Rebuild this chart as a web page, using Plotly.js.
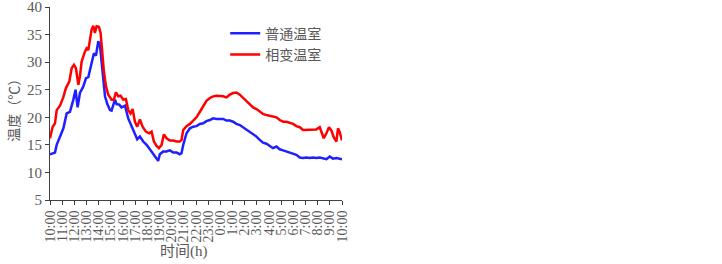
<!DOCTYPE html>
<html>
<head>
<meta charset="utf-8">
<script src="https://cdn.plot.ly/plotly-3.0.1.min.js"></script>
<style>html,body{margin:0;padding:0;background:#fff;}#chart{width:722px;height:264px;}</style>
</head>
<body>
<div id="chart"></div>
<script>
// Hours after 10:00 and temperatures (°C)
const tickLabels = ["10:00","11:00","12:00","13:00","14:00","15:00","16:00","17:00","18:00","19:00","20:00","21:00","22:00","23:00","0:00","1:00","2:00","3:00","4:00","5:00","6:00","7:00","8:00","9:00","10:00"];
const yTicks = [5,10,15,20,25,30,35,40];

const normalHours = [0,0.41,0.55,0.75,0.96,1.1,1.37,1.64,1.92,2.1,2.27,2.46,2.74,2.96,3.15,3.42,3.61,3.78,3.97,4.1,4.24,4.38,4.52,4.71,4.93,5.06,5.34,5.47,5.69,5.88,6.16,6.43,6.71,6.98,7.17,7.39,7.66,7.94,8.21,8.48,8.7,8.89,9.03,9.3,9.58,9.85,10.13,10.4,10.67,10.81,10.95,11.22,11.5,11.77,12.04,12.32,12.59,12.86,13.14,13.41,13.68,13.96,14.23,14.5,14.78,15.05,15.32,15.6,15.87,16.14,16.42,16.69,16.97,17.24,17.51,17.79,18.06,18.33,18.61,18.88,19.16,19.43,19.7,19.98,20.25,20.53,20.8,21.07,21.35,21.62,21.89,22.17,22.44,22.72,22.99,23.26,23.54,24];
const normalTemp = [13.3,13.6,15.0,16.2,17.1,18.0,20.7,21.0,23.2,25.0,21.8,24.4,25.6,27.1,27.3,30.1,31.6,31.2,33.8,33.2,30.4,26.8,23.8,22.4,21.3,21.2,23.2,22.4,22.3,21.8,22.1,19.8,18.3,17.1,16.0,16.5,15.6,15.0,14.2,13.3,12.6,12.1,13.3,13.8,13.8,14.0,13.6,13.6,13.3,13.5,15.0,17.1,18.0,18.3,18.4,18.8,18.9,19.3,19.5,19.8,19.7,19.7,19.7,19.4,19.4,19.2,18.8,18.6,18.2,17.8,17.4,17.0,16.5,15.9,15.4,15.2,14.8,14.4,14.7,14.2,14.0,13.8,13.6,13.5,13.2,12.7,12.6,12.7,12.6,12.7,12.6,12.7,12.6,12.4,12.9,12.5,12.6,12.4];

const pcmHours = [0,0.22,0.41,0.55,0.82,1.09,1.31,1.59,1.78,1.97,2.13,2.33,2.46,2.6,2.87,3.01,3.15,3.28,3.42,3.56,3.69,3.83,4.02,4.16,4.3,4.43,4.6,4.79,5.06,5.25,5.42,5.61,5.8,6.02,6.24,6.43,6.62,6.79,6.98,7.17,7.39,7.61,7.88,8.16,8.35,8.54,8.76,8.95,9.17,9.36,9.58,9.85,10.13,10.4,10.67,10.81,10.95,11.22,11.5,11.77,12.04,12.32,12.59,12.86,13.14,13.41,13.68,13.96,14.23,14.5,14.78,15.05,15.32,15.6,15.87,16.14,16.42,16.69,16.97,17.24,17.51,17.79,18.06,18.33,18.61,18.88,19.16,19.43,19.7,19.98,20.25,20.53,20.8,21.07,21.35,21.62,21.89,22.17,22.3,22.5,22.72,22.93,23.13,23.32,23.54,23.67,23.8,24];
const pcmTemp = [16.2,18.3,18.9,21.3,22.1,23.6,25.3,26.5,28.9,29.5,28.9,25.9,27.4,30.1,31.9,32.5,32.2,34.1,35.9,36.6,35.3,36.5,36.4,35.3,31.6,28.3,25.6,24.1,23.2,23.2,24.5,23.8,23.9,23.2,23.3,21.3,20.7,21.5,19.2,18.3,19.6,18.3,17.4,17.1,17.4,15.6,14.8,14.4,15.0,16.9,16.2,15.8,15.8,15.6,15.6,15.9,17.7,18.4,18.8,19.4,20.0,21.0,22.1,23.0,23.5,23.8,23.9,23.9,23.8,23.6,24.1,24.4,24.5,24.1,23.5,22.9,22.3,21.8,21.5,21.0,20.6,20.4,20.3,20.1,20.0,19.5,19.2,19.2,19.0,18.8,18.4,18.2,17.7,17.7,17.7,17.8,17.8,18.2,17.4,16.2,17.1,18.2,17.6,16.4,15.6,18.0,17.4,15.8];

const seriesNames = ["普通温室","相变温室"];
const xTitle = "时间(h)";
const yTitle = "温度（℃）";

const textColor = "#595959";
const serif = "Liberation Serif, Times New Roman, serif";
const cjk = "Liberation Serif, Noto Sans CJK SC, serif";
const cjkOnly = "Noto Sans CJK SC, sans-serif";

const data = [
  {x: normalHours, y: normalTemp, name: seriesNames[0], type: "scatter", mode: "lines",
   line: {color: "#1f1fff", width: 2.5}},
  {x: pcmHours, y: pcmTemp, name: seriesNames[1], type: "scatter", mode: "lines",
   line: {color: "#ff0000", width: 2.5}}
];

const layout = {
  width: 722, height: 264,
  margin: {l: 50, r: 379.5, t: 7.3, b: 64, pad: 0},
  paper_bgcolor: "#fff", plot_bgcolor: "#fff",
  showlegend: true,
  legend: {x: 0.6, y: 0.945, xanchor: "left", yanchor: "top", bgcolor: "rgba(0,0,0,0)",
           font: {family: cjk, size: 14, color: textColor}, tracegroupgap: 0},
  xaxis: {
    range: [0, 24], tickvals: tickLabels.map((_, i) => i), ticktext: tickLabels,
    tickangle: -90, ticks: "outside", ticklen: 4, tickcolor: "#404040",
    showline: true, linecolor: "#404040", linewidth: 1, showgrid: false, zeroline: false,
    ticklabeloverflow: "allow",
    tickfont: {family: serif, size: 14, color: textColor}
  },
  yaxis: {
    range: [5, 40], tickvals: yTicks, ticktext: yTicks.map(String),
    ticks: "outside", ticklen: 4, tickcolor: "#404040",
    showline: true, linecolor: "#404040", linewidth: 1, showgrid: false, zeroline: false,
    ticklabeloverflow: "allow",
    tickfont: {family: serif, size: 15, color: textColor}
  },
  annotations: [
    {text: xTitle, xref: "paper", yref: "paper", x: 0.46, y: -0.265, xanchor: "center", yanchor: "middle",
     showarrow: false, font: {family: cjk, size: 15, color: textColor}},
    {text: yTitle, xref: "paper", yref: "paper", x: -0.125, y: 0.48, xanchor: "center", yanchor: "middle",
     textangle: -90, showarrow: false, font: {family: cjkOnly, size: 14, color: textColor}}
  ]
};

Plotly.newPlot("chart", data, layout, {displayModeBar: false, staticPlot: true});
</script>
</body>
</html>
